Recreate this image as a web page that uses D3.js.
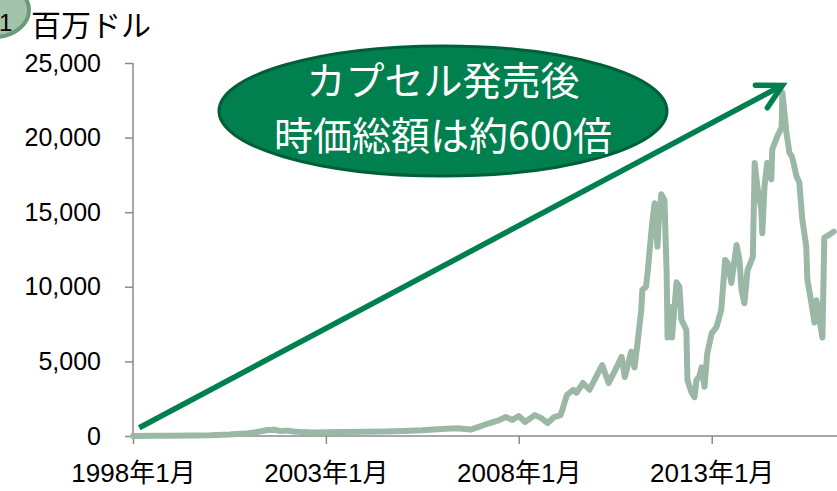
<!DOCTYPE html>
<html>
<head>
<meta charset="utf-8">
<script src="https://cdn.jsdelivr.net/npm/d3@7"></script>
<style>
  body { margin: 0; background: #fff; }
  svg { display: block; font-family: "Liberation Sans", "Noto Sans CJK JP", sans-serif; }
</style>
</head>
<body>
<svg width="837" height="491"></svg>
<script>
// 時価総額（百万ドル）
var dates = [
  "1998-01-01","1998-07-01","1999-01-01","1999-07-01","2000-01-01","2000-07-01",
  "2001-01-01","2001-04-01","2001-07-01","2001-09-01","2001-11-01","2002-01-01",
  "2002-03-01","2002-06-01","2002-09-01","2003-01-01","2003-07-01","2004-01-01",
  "2004-07-01","2005-01-01","2005-07-01","2006-01-01","2006-06-01","2006-10-01",
  "2007-01-01","2007-04-01","2007-07-01","2007-09-01","2007-11-01","2008-01-01",
  "2008-03-01","2008-06-01","2008-08-01","2008-10-01","2008-12-01","2009-02-01",
  "2009-04-01","2009-06-01","2009-07-01","2009-09-01","2009-11-01","2010-01-01",
  "2010-03-01","2010-05-01","2010-07-01","2010-09-01","2010-10-01","2010-12-01",
  "2011-01-01","2011-02-01","2011-03-06","2011-03-16","2011-04-20","2011-05-10",
  "2011-05-22","2011-06-18","2011-07-10","2011-08-06","2011-08-20","2011-09-12",
  "2011-10-12","2011-11-01","2011-11-10","2011-12-16","2011-12-22","2012-02-03",
  "2012-03-01","2012-03-20","2012-05-06","2012-05-16","2012-06-25","2012-07-22",
  "2012-08-10","2012-09-06","2012-09-27","2012-10-25","2012-11-20","2013-01-01",
  "2013-02-15","2013-04-01","2013-05-08","2013-06-01","2013-07-06","2013-08-24",
  "2013-09-21","2013-10-10","2013-11-06","2013-12-06","2014-01-25","2014-02-12",
  "2014-03-09","2014-04-15","2014-04-25","2014-05-15","2014-06-10","2014-07-19",
  "2014-07-28","2014-09-15","2014-10-25","2014-11-01","2014-12-10","2015-01-06",
  "2015-02-01","2015-03-15","2015-04-10","2015-05-09","2015-06-15","2015-06-25",
  "2015-08-03","2015-09-01","2015-09-19","2015-10-18","2015-11-15","2015-12-03",
  "2016-01-21","2016-03-01"
];
var values = [
  0,10,20,30,50,100,
  180,280,400,420,330,360,
  300,260,240,250,260,280,
  300,330,380,470,520,430,
  650,870,1070,1270,1070,1340,
  940,1400,1200,870,1270,1400,
  2750,3100,2900,3550,3100,3950,
  4750,3550,4400,5300,3950,5650,
  4600,6400,8450,9800,10000,11300,
  12300,14300,15600,12700,14500,16200,
  15800,10900,6600,8650,6600,10300,
  10000,7800,7100,3750,2900,2600,
  3750,4000,4600,3300,5550,6900,
  7300,8450,11800,11600,10250,12800,
  11800,9800,8900,11100,12000,18300,
  16700,15200,13600,16700,18300,17200,
  19200,20100,20700,23000,20300,19000,
  18700,17400,17000,14500,12700,10500,
  8900,7600,9100,7800,6600,13300,
  13500,13700
];

var yTicks = [0, 5000, 10000, 15000, 20000, 25000];
var xTicks = ["1998-01-01", "2003-01-01", "2008-01-01", "2013-01-01"];
var xTickLabels = ["1998年1月", "2003年1月", "2008年1月", "2013年1月"];

// 矢印（始点と終点）
var arrowDates = ["1998-03-01", "2014-11-01"];
var arrowValues = [550, 23500];

var unitLabel = "百万ドル";
var calloutLines = ["カプセル発売後", "時価総額は約600倍"];

var parse = d3.timeParse("%Y-%m-%d");
var data = dates.map(function(d, i){ return {date: parse(d), value: values[i]}; });

var svg = d3.select("svg");
var margin = {top: 63, left: 133, bottom: 55, right: 0};
var width = +svg.attr("width");
var height = +svg.attr("height");

var x = d3.scaleTime()
  .domain([parse("1998-01-01"), parse("2016-04-01")])
  .range([margin.left, width - margin.right]);
var y = d3.scaleLinear()
  .domain([0, 25000])
  .range([height - margin.bottom, margin.top]);

var axisColor = "#8a8a8a";

// 左上の丸（切れている）
svg.append("ellipse")
  .attr("cx", -6).attr("cy", 10).attr("rx", 35).attr("ry", 27)
  .attr("fill", "#a3c3ab").attr("stroke", "#6a9a78").attr("stroke-width", 4);
svg.append("text")
  .attr("x", -1).attr("y", 31)
  .attr("font-size", 24).attr("fill", "#000")
  .text("1");

svg.append("text")
  .attr("x", 31).attr("y", 36)
  .attr("font-size", 30).attr("fill", "#000")
  .text(unitLabel);

// y軸
var yAxis = svg.append("g")
  .attr("transform", "translate(" + margin.left + ",0)")
  .call(d3.axisLeft(y).tickValues(yTicks).tickSize(8).tickPadding(24)
    .tickFormat(d3.format(",")));
yAxis.select(".domain").attr("stroke", axisColor).attr("stroke-width", 1.5)
  .attr("d", "M0," + y(25000) + "V" + y(0));
yAxis.selectAll(".tick line").attr("stroke", axisColor).attr("stroke-width", 1.5);
yAxis.selectAll(".tick text").attr("font-size", 25).attr("fill", "#000")
  .attr("font-family", "Liberation Sans, sans-serif");

// x軸
var xAxis = svg.append("g")
  .attr("transform", "translate(0," + y(0) + ")")
  .call(d3.axisBottom(x).tickValues(xTicks.map(parse)).tickSize(8).tickPadding(20)
    .tickFormat(function(d, i){ return xTickLabels[i]; }));
xAxis.select(".domain").attr("stroke", axisColor).attr("stroke-width", 1.5)
  .attr("d", "M" + margin.left + ",0H" + width);
xAxis.selectAll(".tick line").attr("stroke", axisColor).attr("stroke-width", 1.5);
xAxis.selectAll(".tick text").attr("font-size", 26).attr("fill", "#000")
  .attr("font-family", "Liberation Sans, Noto Sans CJK JP, sans-serif");

// 時価総額ライン
var line = d3.line()
  .x(function(d){ return x(d.date); })
  .y(function(d){ return y(d.value); });
svg.append("path")
  .datum(data)
  .attr("d", line)
  .attr("fill", "none")
  .attr("stroke", "#9bb8a6")
  .attr("stroke-width", 6)
  .attr("stroke-linejoin", "round")
  .attr("stroke-linecap", "round");

// 吹き出し（楕円）
var callout = svg.append("g").attr("transform", "translate(443,111)");
callout.append("ellipse")
  .attr("rx", 224).attr("ry", 65)
  .attr("fill", "#00804e").attr("stroke", "#005f38").attr("stroke-width", 3);
callout.selectAll("text")
  .data(calloutLines)
  .enter()
  .append("text")
  .attr("x", 0)
  .attr("y", function(d, i){ return i === 0 ? -16 : 39; })
  .attr("text-anchor", "middle")
  .attr("font-size", 39)
  .attr("fill", "#fff")
  .attr("font-family", "Noto Sans CJK JP, sans-serif")
  .text(function(d){ return d; });

// 矢印
var ax0 = x(parse(arrowDates[0])), ay0 = y(arrowValues[0]);
var ax1 = x(parse(arrowDates[1])), ay1 = y(arrowValues[1]);
var ang = Math.atan2(ay1 - ay0, ax1 - ax0);
var arrowColor = "#00804e";
svg.append("line")
  .attr("x1", ax0).attr("y1", ay0).attr("x2", ax1).attr("y2", ay1)
  .attr("stroke", arrowColor).attr("stroke-width", 5.5);
var headLen = 27, headAng = 0.49;
var headPts = [
  [ax1 - headLen * Math.cos(ang - headAng), ay1 - headLen * Math.sin(ang - headAng)],
  [ax1, ay1],
  [ax1 - headLen * Math.cos(ang + headAng), ay1 - headLen * Math.sin(ang + headAng)]
];
svg.append("path")
  .attr("d", d3.line()(headPts))
  .attr("fill", "none")
  .attr("stroke", arrowColor)
  .attr("stroke-width", 5.5)
  .attr("stroke-linecap", "round")
  .attr("stroke-linejoin", "miter");
</script>
</body>
</html>
